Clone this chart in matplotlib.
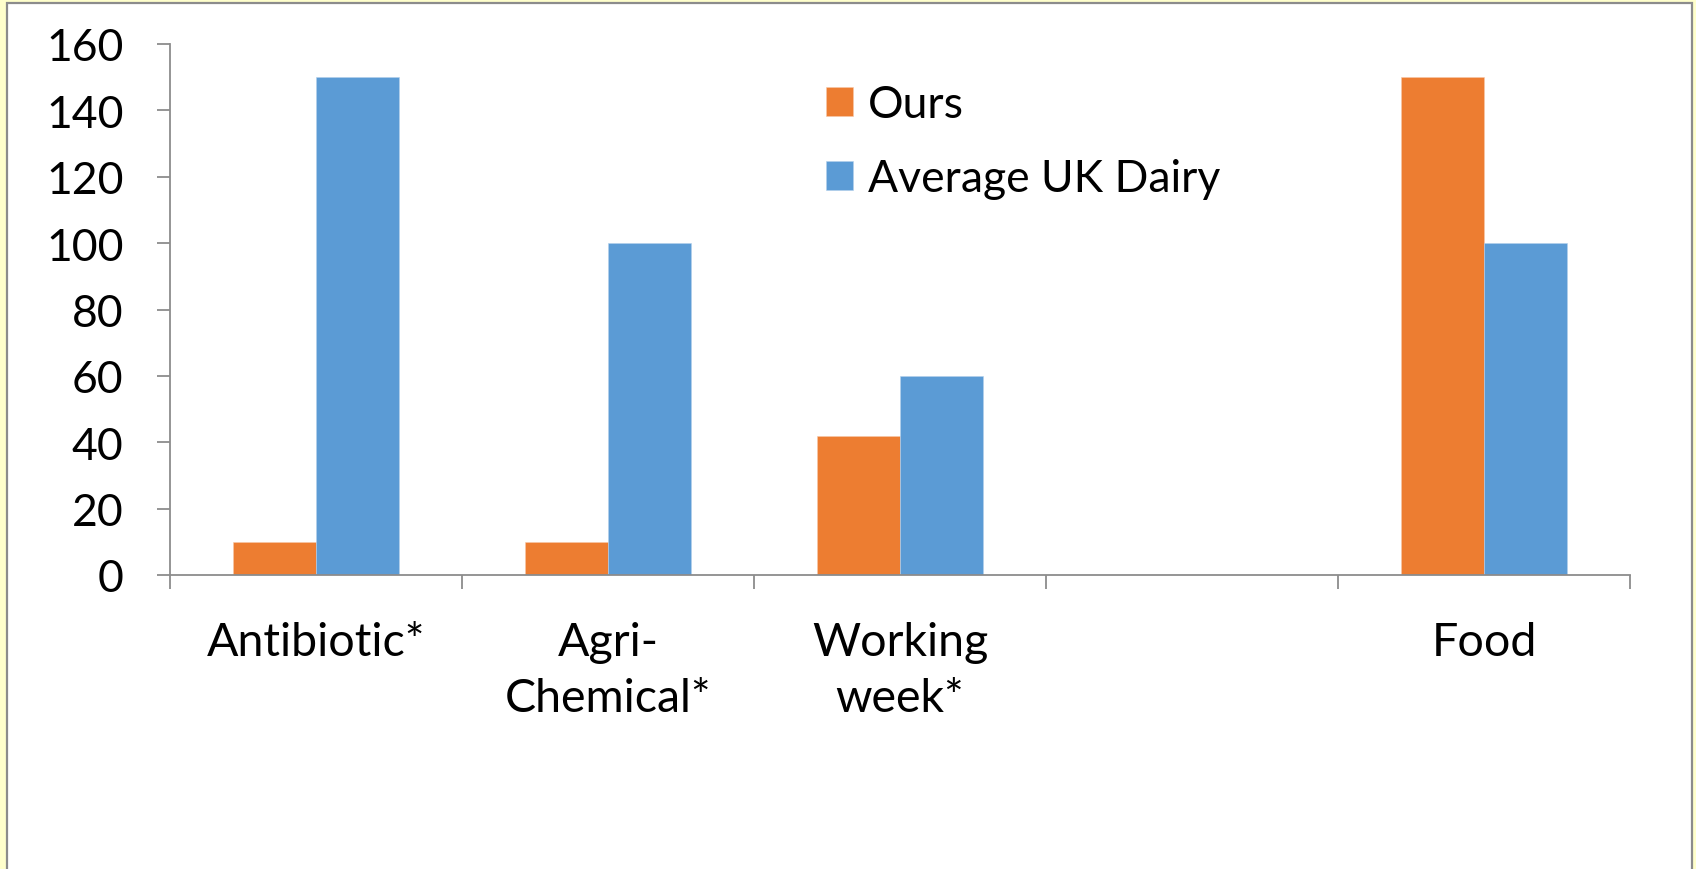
import matplotlib.pyplot as plt
from matplotlib.patches import Rectangle
import numpy as np

# data
categories = ['Antibiotic*', 'Agri-\nChemical*', 'Working\nweek*', '', 'Food']
ours = [10, 10, 42, 0, 150]
uk_avg = [150, 100, 60, 0, 100]
yticks = [0, 20, 40, 60, 80, 100, 120, 140, 160]

plt.rcParams['font.family'] = ['Lato', 'DejaVu Sans']

W, H = 1696, 870
fig = plt.figure(figsize=(W / 100, H / 100), dpi=100, facecolor='#FFFFCC')

# white chart area with grey frame
fig.patches.append(Rectangle((7 / W, -0.05), (1692 - 7) / W, 1.05 - 4 / H,
                             transform=fig.transFigure, facecolor='white',
                             edgecolor='#8C8C8C', linewidth=1.6, zorder=-10))

ax = fig.add_axes([170 / W, 1 - 576 / H, 1460 / W, (576 - 45) / H])
ax.set_facecolor('none')

x = np.arange(len(categories))
w = 0.284
ax.bar(x - w / 2, ours, w, color='#ED7D31', label='Ours', edgecolor='#F7C9A9', linewidth=0.4)
ax.bar(x + w / 2, uk_avg, w, color='#5B9BD5', label='Average UK Dairy', edgecolor='#B4D0EC', linewidth=0.4)

ax.set_xlim(-0.5, len(categories) - 0.5)
ax.set_ylim(0, 160)
ax.set_yticks(yticks)

grey = '#8C8C8C'
for s in ['top', 'right']:
    ax.spines[s].set_visible(False)
for s in ['left', 'bottom']:
    ax.spines[s].set_color(grey)
    ax.spines[s].set_linewidth(1.3)

ax.tick_params(axis='y', length=9.5, width=1.3, color=grey, labelsize=32, pad=24)
ax.set_xticks(np.arange(-0.5, len(categories), 1.0), minor=True)
ax.set_xticks(x)
ax.set_xticklabels(categories, fontsize=33.5, linespacing=1.42, va='top')
ax.tick_params(axis='x', which='major', length=0, pad=33)
ax.tick_params(axis='x', which='minor', length=10, width=1.3, color=grey)

ax.legend(loc='upper left', bbox_to_anchor=(0.449, 0.925), frameon=False,
          fontsize=32, handlelength=0.62, handleheight=0.62, handletextpad=0.33,
          labelspacing=0.75, borderpad=0, borderaxespad=0)

fig.savefig('out.png', dpi=100, facecolor=fig.get_facecolor())
